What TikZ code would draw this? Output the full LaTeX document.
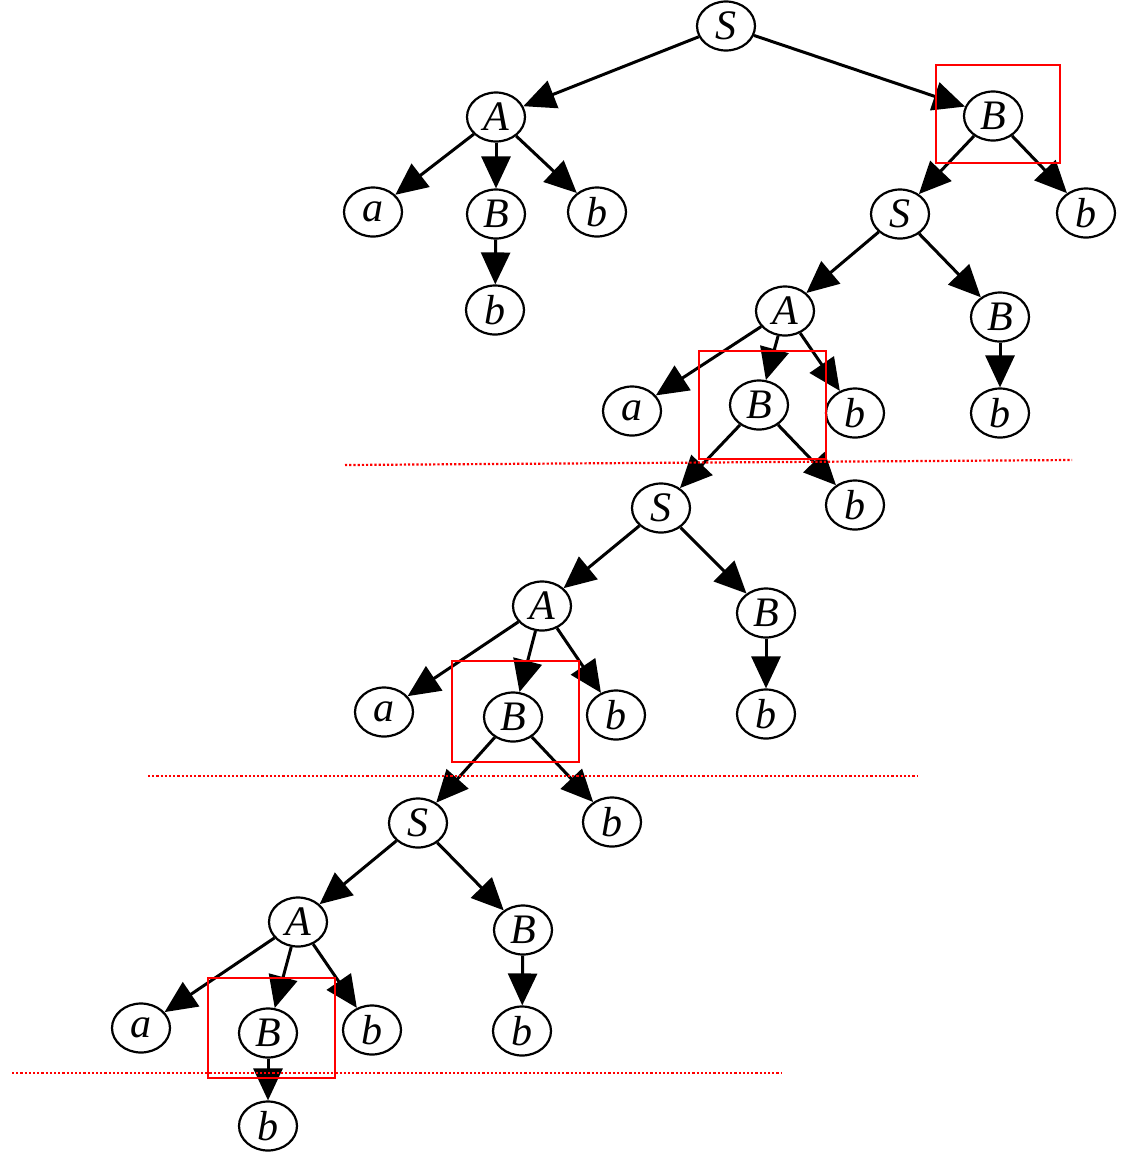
\documentclass[tikz,border=0pt]{standalone}
\usepackage{fontspec}
\setmainfont{Liberation Serif}
\usetikzlibrary{shapes.geometric,arrows.meta}
\begin{document}
\begin{tikzpicture}[x=1pt,y=-1pt,
  nd/.style={draw,ellipse,line width=2.2pt,minimum width=58pt,minimum height=49pt,inner sep=0pt,font=\fontsize{42}{44}\selectfont\itshape},
  ed/.style={line width=3pt,-{Triangle[length=32pt,width=29pt]}},
  hl/.style={draw=red,line width=2.2pt},
  cut/.style={red,line width=2.2pt,dotted}]
\useasboundingbox (0,0) rectangle (1130,1152);
% level 0
\node[nd] (S0) at (726,26) {S};
\node[nd] (A1) at (496,117) {A};
\node[nd] (B1) at (993,116) {B};
\node[nd] (a1) at (373,212) {a};
\node[nd] (B1a) at (496,214) {B};
\node[nd] (b1) at (597,212) {b};
\node[nd] (b1b) at (495,310) {b};
\node[nd] (S2) at (900,214) {S};
\node[nd] (b2) at (1086,213) {b};
\node[nd] (A2) at (785,311) {A};
\node[nd] (B2) at (1000,317) {B};
\node[nd] (a2) at (632,411) {a};
\node[nd] (B2b) at (759,405) {B};
\node[nd] (b3) at (855,413) {b};
\node[nd] (b4) at (1000,413) {b};
\node[nd] (S3) at (661,508) {S};
\node[nd] (b5) at (855,505) {b};
\node[nd] (A3) at (542,606) {A};
\node[nd] (B3) at (766,613) {B};
\node[nd] (a3) at (384,712) {a};
\node[nd] (B3b) at (513,717) {B};
\node[nd] (b6) at (616,715) {b};
\node[nd] (b7) at (766,714) {b};
\node[nd] (S4) at (418,823) {S};
\node[nd] (b8) at (612,822) {b};
\node[nd] (A4) at (298,922) {A};
\node[nd] (B4) at (523,930) {B};
\node[nd] (a4) at (141,1028) {a};
\node[nd] (B4b) at (268,1033) {B};
\node[nd] (b9) at (372,1030) {b};
\node[nd] (b10) at (522,1031) {b};
\node[nd] (b11) at (268,1126) {b};
% edges
\foreach \u/\v in {S0/A1,S0/B1,A1/a1,A1/B1a,A1/b1,B1a/b1b,B1/S2,B1/b2,S2/A2,S2/B2,A2/a2,A2/B2b,A2/b3,B2/b4,B2b/S3,B2b/b5,S3/A3,S3/B3,A3/a3,A3/B3b,A3/b6,B3/b7,B3b/S4,B3b/b8,S4/A4,S4/B4,A4/a4,A4/B4b,A4/b9,B4/b10,B4b/b11}
  \draw[ed] (\u) -- (\v);
% highlight boxes
\draw[hl] (936,65) rectangle (1060,163);
\draw[hl] (699,351) rectangle (826,459);
\draw[hl] (452,661) rectangle (579,762);
\draw[hl] (208,978) rectangle (335,1078);
% cut lines
\coordinate (c1a) at (345,465); \coordinate (c1b) at (1072,460);
\coordinate (c2a) at (148,776); \coordinate (c2b) at (918,776);
\coordinate (c3a) at (12,1073); \coordinate (c3b) at (782,1073);
\draw[cut] (c1a) -- (c1b);
\draw[cut] (c2a) -- (c2b);
\draw[cut] (c3a) -- (c3b);
\end{tikzpicture}
\end{document}
